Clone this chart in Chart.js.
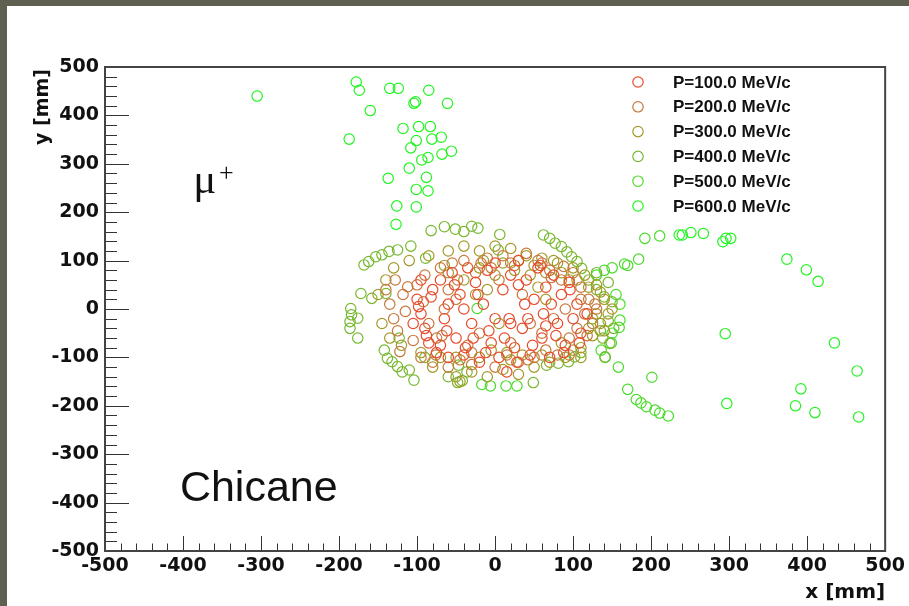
<!DOCTYPE html>
<html>
<head>
<meta charset="utf-8">
<script src="https://cdn.jsdelivr.net/npm/chart.js@4.4.1/dist/chart.umd.min.js"></script>
<style>
  html, body { margin: 0; padding: 0; background: #606050; overflow: hidden; }
  #wrap { position: absolute; left: 7px; top: 6px; width: 902px; height: 600px; background: #fff; }
</style>
</head>
<body>
<div id="wrap"><canvas id="chart"></canvas></div>
<script>
// momentum labels (legend) and tick values
const momenta = ['P=100.0 MeV/c', 'P=200.0 MeV/c', 'P=300.0 MeV/c', 'P=400.0 MeV/c', 'P=500.0 MeV/c', 'P=600.0 MeV/c'];
const xTicks = [-500, -400, -300, -200, -100, 0, 100, 200, 300, 400, 500];
const yTicks = [-500, -400, -300, -200, -100, 0, 100, 200, 300, 400, 500];

// hit positions [x mm, y mm]
const p100 = [
  [-100,20],[-95,-10],[-90,-40],[-85,-70],[-80,40],[-75,-90],[-70,60],[-65,-20],[-60,10],[-60,-100],
  [-55,75],[-50,-60],[-45,30],[-40,-95],[-35,85],[-30,-30],[-25,55],[-20,-110],[-15,10],[-10,80],
  [-5,-70],[0,95],[5,-100],[10,40],[15,-130],[20,70],[25,-80],[30,100],[35,-40],[40,60],
  [45,-95],[50,20],[55,85],[60,-60],[65,45],[70,-100],[75,70],[80,-30],[85,30],[90,-75],
  [95,55],[100,-20],[105,10],[110,-50],[-105,-30],[-98,5],[-88,-55],[-70,-75],[-52,50],[-38,-80],
  [-22,30],[-8,-45],[12,-60],[28,-110],[42,-20],[58,90],[72,10],[88,-90],[96,40],[108,-70],
  [118,-10],[-82,25],[-62,-45],[-28,-60],[18,-20],[38,10],[62,-10],[78,-55],[-12,-90],[48,-75],
  [20,-30],[-40,0],[0,-20],[65,-35],[30,50],[-95,60]
];
const p200 = [
  [-135,10],[-130,-20],[-125,-45],[-122,-88],[-118,30],[-112,46],[-105,-65],[-100,50],[-95,-100],[-90,70],
  [-85,-30],[-80,-110],[-76,-95],[-70,85],[-65,0],[-60,-120],[-55,95],[-50,20],[-45,-105],[-40,100],
  [-30,-115],[-25,75],[-20,-50],[-10,105],[0,-120],[5,60],[10,110],[15,-95],[25,90],[30,-110],
  [40,115],[45,-30],[50,-100],[55,100],[65,-85],[70,80],[80,-95],[85,60],[95,-60],[100,75],
  [105,-40],[110,45],[115,-10],[120,20],[125,-30],[-115,-5],[-92,15],[-68,-55],[-48,60],[-18,95],
  [20,-70],[60,-50],[35,30],[75,-20],[90,0],[-35,-75],[-75,-60],[130,0],[-128,60],[-140,40],
  [60,95],[72,65],[88,88],[20,95],[-5,85],[110,20],[118,-55],[128,10],[-60,40],[-30,-90],
  [42,-105],[95,-95]
];
const p300 = [
  [-150,30],[-140,60],[-130,85],[-110,100],[-95,-90],[-85,110],[-80,-120],[-60,120],[-50,-140],[-45,-150],
  [-40,130],[-30,-130],[-20,120],[-10,-140],[0,130],[10,-125],[20,125],[30,-135],[40,110],[50,-120],
  [60,105],[70,-110],[80,95],[90,-100],[100,85],[110,-80],[115,70],[125,-55],[130,50],[135,-30],
  [140,20],[145,-10],[150,0],[-145,-30],[-135,-60],[-120,-75],[-20,85],[0,70],[25,80],[45,70],
  [55,45],[65,20],[-60,75],[-65,90],[-40,60],[-25,30],[-5,-85],[15,-90],[35,-95],[85,-70],
  [100,-85],[120,-40],[-70,-100],[75,100],[95,60],[-10,40],[5,-30],
  [-15,100],[10,95],[30,100],[50,90],[65,75],[85,75],[105,60],[120,45],[135,35],[130,-10],
  [140,-45],[110,-100],[60,-95],[20,-105],[-20,-100],[-50,-100]
];
const p400 = [
  [-168,91],[-162,98],[-153,108],[-145,112],[-136,119],[-125,122],[-108,130],[-89,105],[-172,32],[-158,22],
  [-140,32],[-185,1],[-184,-12],[-176,-19],[-186,-26],[-186,-40],[-176,-60],[-123,-60],[-142,-85],[-138,-102],
  [-132,-109],[-125,-119],[-119,-130],[-110,-126],[-104,-147],[-82,162],[-65,170],[-51,165],[-40,160],[-30,171],
  [-22,167],[6,154],[4,122],[62,153],[70,146],[77,136],[85,129],[92,118],[98,108],[105,98],
  [111,84],[-42,-148],[-36,-130],[-47,-116],[66,-116],[81,-112],[94,-109],[102,-99],[141,-99],[147,-71],
  [120,60],[130,40],[145,55],[125,-20],[135,-45],[-48,-152],[49,-152],
  [130,75],[140,25],[150,15],[145,-25],[152,-40],[138,-60],[110,-90],[-60,-140],[-90,-100]
];
const p500 = [
  [166,93],[184,103],[192,146],[211,151],[160,-23],[159,-38],[149,-70],[136,-85],[141,-100],[158,-120],
  [170,-166],[181,-187],[187,-194],[194,-202],[205,-209],[211,-215],[222,-221],[201,-141],[-23,1],[-17,-156],
  [-6,-159],[14,-159],[28,-159],[140,80],[130,70],[150,85],[155,30],[160,10],[150,-50],[170,90]
];
const p600 = [
  [-305,440],[-178,469],[-174,452],[-135,456],[-124,456],[-85,452],[-104,425],[-102,428],[-61,425],[-160,410],
  [-187,351],[-118,373],[-98,377],[-83,377],[-101,348],[-81,351],[-69,355],[-108,333],[-94,308],[-86,313],
  [-68,320],[-56,326],[-110,291],[-137,270],[-88,272],[-101,247],[-86,244],[-126,213],[-101,211],[-127,175],
  [236,153],[240,153],[251,158],[267,156],[292,139],[296,146],[302,146],[374,103],[399,81],[414,57],
  [295,-51],[435,-70],[464,-128],[392,-165],[385,-200],[410,-214],[466,-223],[297,-195]
];

const series = [p100, p200, p300, p400, p500, p600];
const colours = ['#e84a2c', '#c8783c', '#a39a2a', '#78b830', '#48dc28', '#22f422'];

const datasets = series.map((pts, i) => ({
  label: momenta[i],
  data: pts.map(p => ({ x: p[0], y: p[1] })),
  borderColor: colours[i],
  backgroundColor: 'rgba(0,0,0,0)',
  pointRadius: 5.2,
  pointHoverRadius: 5.2,
  pointBorderWidth: 1.2,
  showLine: false
}));

// ROOT-like frame, inward ticks, legend and text
const rootStyle = {
  id: 'rootStyle',
  afterDatasetsDraw(chart) {
    const { ctx, chartArea: a, scales: { x, y } } = chart;
    ctx.save();
    // minor + major ticks
    ctx.strokeStyle = '#333';
    ctx.lineWidth = 1;
    ctx.beginPath();
    for (let v = -500; v <= 500; v += 20) {
      const major = v % 100 === 0;
      const px = Math.round(x.getPixelForValue(v)) + 0.5;
      ctx.moveTo(px, a.bottom);
      ctx.lineTo(px, a.bottom - (major ? 15 : 7.5));
      const py = Math.round(y.getPixelForValue(v)) + 0.5;
      ctx.moveTo(a.left, py);
      ctx.lineTo(a.left + (major ? 24 : 12), py);
    }
    ctx.stroke();
    // frame
    ctx.strokeStyle = '#444';
    ctx.lineWidth = 2;
    ctx.strokeRect(a.left, a.top, a.right - a.left, a.bottom - a.top);

    // legend
    ctx.font = 'bold 17px "Liberation Sans", Arial, sans-serif';
    ctx.textBaseline = 'middle';
    ctx.textAlign = 'left';
    chart.data.datasets.forEach((ds, i) => {
      const ly = a.top + 15 + i * 24.8;
      ctx.beginPath();
      ctx.strokeStyle = ds.borderColor;
      ctx.lineWidth = 1.2;
      ctx.arc(a.left + 533, ly, 5.2, 0, Math.PI * 2);
      ctx.stroke();
      ctx.fillStyle = '#111';
      ctx.fillText(ds.label, a.left + 568, ly + 1);
    });

    // axis titles
    ctx.fillStyle = '#111';
    ctx.font = 'bold 20px "DejaVu Sans", sans-serif';
    ctx.textAlign = 'right';
    ctx.textBaseline = 'alphabetic';
    ctx.fillText('x [mm]', a.right, a.bottom + 47);
    ctx.save();
    ctx.translate(a.left - 57, a.top);
    ctx.rotate(-Math.PI / 2);
    ctx.textAlign = 'right';
    ctx.font = 'bold 19px "DejaVu Sans", sans-serif';
    ctx.fillText('y [mm]', -2, 0);
    ctx.restore();

    // annotations placed in data coordinates
    ctx.textAlign = 'left';
    ctx.font = '43px "Liberation Sans", Arial, sans-serif';
    ctx.fillText('Chicane', x.getPixelForValue(-404), y.getPixelForValue(-397));
    const mx = x.getPixelForValue(-387), my = y.getPixelForValue(240);
    ctx.font = '43px "Liberation Serif", serif';
    ctx.fillText('\u03bc', mx, my);
    ctx.font = '26px "Liberation Serif", serif';
    ctx.fillText('+', mx + ctx.measureText('\u03bc').width + 12, my - 12);
    ctx.restore();
  }
};

const tickFont = { family: '"DejaVu Sans", sans-serif', weight: 'bold', size: 19 };

new Chart(document.getElementById('chart'), {
  type: 'scatter',
  data: { datasets },
  options: {
    responsive: true,
    maintainAspectRatio: false,
    animation: false,
    layout: { padding: { top: 61, right: 21, left: 0, bottom: 0 } },
    plugins: { legend: { display: false }, tooltip: { enabled: false } },
    scales: {
      x: {
        type: 'linear', min: -500, max: 500,
        afterBuildTicks: s => { s.ticks = xTicks.map(v => ({ value: v })); },
        afterFit: s => { s.height = 55; },
        grid: { display: false, drawTicks: false },
        border: { display: false },
        ticks: { autoSkip: false, maxRotation: 0, padding: 4, color: '#111', font: tickFont }
      },
      y: {
        type: 'linear', min: -500, max: 500,
        afterBuildTicks: s => { s.ticks = yTicks.map(v => ({ value: v })); },
        afterFit: s => { s.width = 98; },
        grid: { display: false, drawTicks: false },
        border: { display: false },
        ticks: { autoSkip: false, padding: 6, color: '#111', font: tickFont }
      }
    }
  },
  plugins: [rootStyle]
});
</script>
</body>
</html>
